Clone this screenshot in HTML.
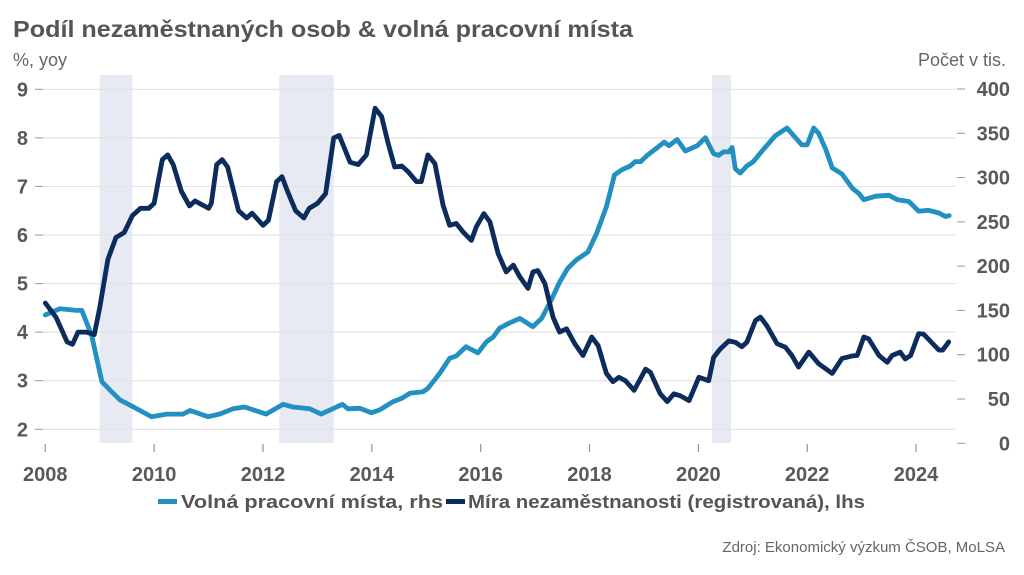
<!DOCTYPE html>
<html><head><meta charset="utf-8"><style>
html,body{margin:0;padding:0;background:#fff;}
svg{display:block;font-family:"Liberation Sans",sans-serif;}
</style></head><body>
<svg id="chart" width="1024" height="575" viewBox="0 0 1024 575">
<text x="13" y="37" font-size="23" font-weight="bold" fill="#555" textLength="620" lengthAdjust="spacingAndGlyphs">Podíl nezaměstnaných osob &amp; volná pracovní místa</text>
<text x="13" y="66" font-size="18" fill="#666">%, yoy</text>
<text x="1006" y="66" font-size="18" fill="#666" text-anchor="end">Počet v tis.</text>
<g id="shade"></g>
<g id="grid"></g>
<g id="axes"></g>
<g id="series"></g>
<g>
 <rect x="158" y="499" width="19" height="5" fill="#2390c2"/>
 <text x="181" y="508" font-size="18" font-weight="bold" fill="#555" textLength="262" lengthAdjust="spacingAndGlyphs">Volná pracovní místa, rhs</text>
 <rect x="446" y="499" width="19" height="5" fill="#0b2c5c"/>
 <text x="468" y="508" font-size="18" font-weight="bold" fill="#555" textLength="397" lengthAdjust="spacingAndGlyphs">Míra nezaměstnanosti (registrovaná), lhs</text>
</g>
<text x="1005" y="552" font-size="15" fill="#666" text-anchor="end">Zdroj: Ekonomický výzkum ČSOB, MoLSA</text>
</svg>
<script>
const unempDates=[2008.0,2008.2,2008.4,2008.5,2008.6,2008.75,2008.9,2009.0,2009.15,2009.3,2009.45,2009.6,2009.75,2009.9,2010.0,2010.15,2010.25,2010.35,2010.5,2010.65,2010.75,2011.0,2011.05,2011.15,2011.25,2011.35,2011.55,2011.7,2011.8,2012.0,2012.1,2012.25,2012.35,2012.45,2012.6,2012.75,2012.85,2013.0,2013.15,2013.3,2013.4,2013.6,2013.75,2013.9,2014.06,2014.18,2014.3,2014.42,2014.55,2014.67,2014.82,2014.91,2015.03,2015.16,2015.31,2015.43,2015.55,2015.68,2015.83,2015.92,2016.06,2016.17,2016.32,2016.47,2016.6,2016.72,2016.87,2016.96,2017.05,2017.18,2017.33,2017.45,2017.58,2017.73,2017.88,2018.04,2018.16,2018.31,2018.43,2018.54,2018.66,2018.82,2019.03,2019.12,2019.3,2019.43,2019.55,2019.67,2019.83,2020.01,2020.19,2020.28,2020.4,2020.56,2020.68,2020.8,2020.89,2021.05,2021.14,2021.26,2021.45,2021.6,2021.72,2021.84,2022.03,2022.21,2022.46,2022.64,2022.83,2022.92,2023.04,2023.13,2023.32,2023.47,2023.56,2023.71,2023.8,2023.9,2024.05,2024.14,2024.42,2024.49,2024.6];
const unempValues=[4.6,4.3,3.8,3.75,4.0,4.0,3.95,4.5,5.5,5.95,6.05,6.4,6.55,6.55,6.65,7.55,7.65,7.45,6.9,6.6,6.7,6.55,6.65,7.45,7.55,7.4,6.5,6.35,6.45,6.2,6.3,7.1,7.2,6.9,6.5,6.35,6.55,6.65,6.85,8.0,8.05,7.5,7.45,7.65,8.61,8.44,7.89,7.4,7.42,7.3,7.1,7.1,7.65,7.47,6.61,6.2,6.24,6.06,5.89,6.17,6.44,6.27,5.62,5.24,5.38,5.14,4.9,5.24,5.27,5.0,4.31,4.0,4.07,3.76,3.52,3.9,3.72,3.15,2.98,3.07,3.0,2.8,3.24,3.17,2.73,2.57,2.73,2.69,2.59,3.07,3.0,3.48,3.65,3.82,3.79,3.7,3.79,4.24,4.31,4.13,3.76,3.69,3.52,3.28,3.59,3.35,3.15,3.46,3.51,3.52,3.9,3.86,3.52,3.38,3.52,3.59,3.45,3.52,3.97,3.96,3.63,3.63,3.8];
const vacDates=[2008.0,2008.27,2008.57,2008.67,2008.85,2009.04,2009.19,2009.37,2009.62,2009.95,2010.23,2010.53,2010.66,2010.99,2011.2,2011.45,2011.66,2012.06,2012.37,2012.55,2012.86,2013.07,2013.28,2013.46,2013.56,2013.78,2013.99,2014.14,2014.39,2014.55,2014.7,2014.94,2015.03,2015.25,2015.43,2015.55,2015.73,2015.95,2016.11,2016.23,2016.35,2016.5,2016.72,2016.96,2017.12,2017.3,2017.45,2017.6,2017.76,2017.97,2018.13,2018.31,2018.46,2018.6,2018.75,2018.84,2018.94,2019.06,2019.21,2019.37,2019.46,2019.61,2019.76,2019.98,2020.13,2020.28,2020.37,2020.46,2020.56,2020.62,2020.68,2020.77,2020.89,2021.01,2021.2,2021.41,2021.63,2021.9,2022.0,2022.12,2022.21,2022.34,2022.46,2022.64,2022.83,2022.95,2023.04,2023.26,2023.5,2023.66,2023.87,2024.05,2024.23,2024.42,2024.54,2024.61];
const vacValues=[145,152,150,150,122,69.5,60,49,41,30,33,33,37,30,33,39,41,33,44,41,39,33,39,44,39,39.5,34.5,37.6,47,50.8,56.4,58.2,62,79,96,98.5,109,102,114.7,120,130,135,141,131.6,141,162,182,197.5,207,216,237,267,303,309,313,318,318,325,332,340,336,343,330,336,345,327,325,329,329,334,310,305,313,318,332,347,356,337,337,356,350,332,311,304,288,282,275,279,280,275,273,262,263,260,256,257];
const leftTicks=[2,3,4,5,6,7,8,9];
const rightTicks=[0,50,100,150,200,250,300,350,400];
const yearTicks=[2008,2010,2012,2014,2016,2018,2020,2022,2024];
const shadeStarts=[2009.0,2012.3,2020.25];
const shadeEnds=[2009.6,2013.3,2020.6];

const NS="http://www.w3.org/2000/svg";
const X0=45.3, PX_YEAR=54.42;
const xs=v=>X0+(v-2008)*PX_YEAR;
const yl=v=>89.3+(9-v)*48.57;
const yr=v=>443.3-v*0.8858;
function mk(tag,attrs,parent){const e=document.createElementNS(NS,tag);for(const k in attrs)e.setAttribute(k,attrs[k]);parent.appendChild(e);return e;}
const shade=document.getElementById('shade'),grid=document.getElementById('grid'),axes=document.getElementById('axes'),series=document.getElementById('series');
shadeStarts.forEach((s,i)=>{
 const r=mk('rect',{x:xs(s),y:75,width:xs(shadeEnds[i])-xs(s),height:368,fill:'#e7eaf2'},shade);
 
 
});
leftTicks.forEach(t=>{
 const y=yl(t);
 const g=mk('line',{x1:43,x2:956,y1:y,y2:y,stroke:'#e3e3e3','stroke-width':1.2},grid);
 
 
 mk('line',{x1:35,x2:43,y1:y,y2:y,stroke:'#999','stroke-width':1},axes);
 const tx=mk('text',{x:28,y:y+7,'font-size':20,'font-weight':'bold',fill:'#595959','text-anchor':'end'},axes);
 tx.textContent=t;
 
 
});
rightTicks.forEach(t=>{
 const y=yr(t);
 mk('line',{x1:957,x2:965,y1:y,y2:y,stroke:'#999','stroke-width':1},axes);
 const tx=mk('text',{x:1010,y:y+7,'font-size':20,'font-weight':'bold',fill:'#595959','text-anchor':'end'},axes);
 tx.textContent=t;
 
 
});
yearTicks.forEach(t=>{
 const x=xs(t);
 mk('line',{x1:x,x2:x,y1:444,y2:452,stroke:'#999','stroke-width':1.3},axes);
 const tx=mk('text',{x:x,y:481,'font-size':20,'font-weight':'bold',fill:'#595959','text-anchor':'middle'},axes);
 tx.textContent=t;
 
 
});
function line(dates,vals,yf,color,name){
 const d=dates.map((t,i)=>(i?'L':'M')+xs(t).toFixed(1)+','+yf(vals[i]).toFixed(1)).join('');
 const p=mk('path',{d:d,fill:'none',stroke:color,'stroke-width':4.8,'stroke-linejoin':'round','stroke-linecap':'round'},series);
 
 
}
line(vacDates,vacValues,yr,'#2390c2','vacancies-line');
line(unempDates,unempValues,yl,'#0b2c5c','unemployment-line');
</script>
</body></html>
